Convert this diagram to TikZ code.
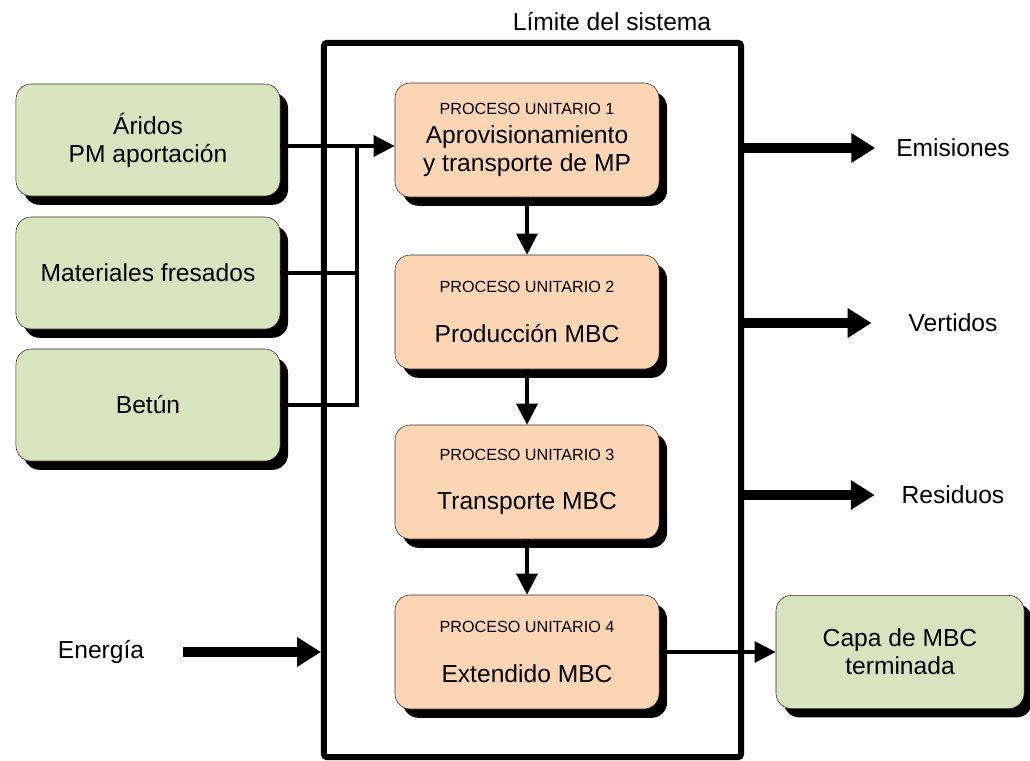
\documentclass[tikz,border=0pt]{standalone}
\usepackage{fontspec}
\setmainfont{Liberation Sans}
\usetikzlibrary{arrows.meta, positioning, shadows}

\definecolor{entradaverde}{RGB}{215,228,189}
\definecolor{procnaranja}{RGB}{252,213,181}

\newcommand{\puhead}[1]{{\fontsize{11.5}{14}\selectfont PROCESO UNITARIO #1}}

\begin{document}
\begin{tikzpicture}[x=0.025cm, y=-0.025cm,
    font=\fontsize{17.5}{20}\selectfont,
    inbox/.style={draw=black!80, fill=entradaverde, rounded corners=11pt, minimum width=6.6cm, minimum height=2.8cm, align=center,
        drop shadow={shadow xshift=0.2cm, shadow yshift=-0.22cm, fill=black, opacity=1}},
    procbox/.style={inbox, fill=procnaranja, minimum height=2.85cm},
    feed/.style={line width=2.2pt},
    thinarrow/.style={line width=2.2pt, -{Triangle[length=15pt, width=15pt]}},
    bigarrow/.style={line width=7pt, -{Triangle[length=17pt, width=20pt]}}
]
\useasboundingbox (0,0) rectangle (1030,761);

% System boundary
\node[draw, line width=4.2pt, rounded corners=2pt, minimum width=10.425cm, minimum height=17.85cm] (limite) at (532.5,400) {};
\node (titulo) at (612,22) {Límite del sistema};

% Inputs - left column
\node[inbox] (arid) at (148,140) {Áridos\\PM aportación};
\node[inbox] (fres) at (148,273) {Materiales fresados};
\node[inbox] (betun) at (148,405) {Betún};

% Unit processes - inside the boundary
\node[procbox] (pu1) at (527,140) {\puhead{1}\\Aprovisionamiento\\y transporte de MP};
\node[procbox] (pu2) at (527,312) {\puhead{2}\\[15pt]Producción MBC};
\node[procbox] (pu3) at (527,482) {\puhead{3}\\[15pt]Transporte MBC};
\node[procbox] (pu4) at (527,652) {\puhead{4}\\[15pt]Extendido MBC};

% Product - right of the boundary
\node[inbox, minimum width=6.2cm, minimum height=2.83cm] (capa) at (900,652) {Capa de MBC\\terminada};

% Feed lines joining the inputs (a bit below the box centres)
\coordinate (bus) at (357,0);
\draw[thinarrow] ([yshift=-0.15cm]arid.east) -- ([yshift=-0.15cm]pu1.west);
\draw[feed] (fres.east) -- (fres.east -| bus);
\draw[feed] (betun.east) -- (betun.east -| bus) -- ([yshift=-0.15cm]arid.east -| bus);

% Process chain
\foreach \a/\b in {pu1/pu2, pu2/pu3, pu3/pu4}
    \draw[thinarrow] (\a.south) -- (\b.north);
\draw[thinarrow] (pu4.east) -- (capa.west);

% Outputs to the environment
\node (emis) at (953,148) {Emisiones};
\node (vert) at (953,323) {Vertidos};
\node (resid) at (953,495) {Residuos};
\draw[bigarrow] (limite.east |- emis.west) -- ([xshift=-0.4cm]emis.west);
\draw[bigarrow] (limite.east |- vert.west) -- ([xshift=-0.8cm]vert.west);
\draw[bigarrow] (limite.east |- resid.west) -- ([xshift=-0.55cm]resid.west);

% Energy input
\node (energia) at (101,652) {Energía};
\draw[bigarrow] ([xshift=0.85cm]energia.east) -- (limite.west |- energia.east);

\end{tikzpicture}
\end{document}
